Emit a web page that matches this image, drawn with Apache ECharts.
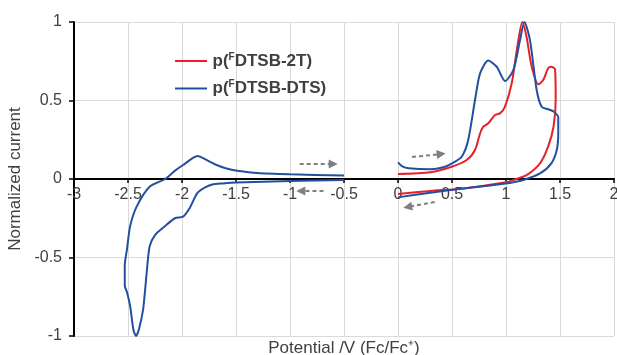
<!DOCTYPE html>
<html>
<head>
<meta charset="utf-8">
<script src="https://cdn.jsdelivr.net/npm/echarts@6/dist/echarts.min.js"></script>
<style>
  html, body { margin: 0; padding: 0; background: #fff; }
  #main { width: 617px; height: 355px; }
</style>
</head>
<body>
<div id="main"></div>
<script>
// p(FDTSB-2T), oxidation scan
const redX = [0, 0.3, 0.497, 0.636, 0.713, 0.76, 0.79, 0.836, 0.898, 0.944, 0.99, 1.053, 1.10, 1.151, 1.19, 1.238, 1.30, 1.345, 1.39, 1.42, 1.454, 1.46, 1.44, 1.39, 1.315, 1.19, 1.07, 1.0, 0.605, 0.3, 0]
const redY = [0.032, 0.043, 0.078, 0.121, 0.185, 0.29, 0.333, 0.355, 0.408, 0.418, 0.46, 0.61, 0.82, 1.0, 0.906, 0.715, 0.603, 0.63, 0.705, 0.715, 0.70, 0.503, 0.333, 0.206, 0.10, 0.025, -0.006, -0.021, -0.06, -0.076, -0.095]

// p(FDTSB-DTS), reduction scan
const blueRedX = [-0.5, -1.0, -1.5, -1.62, -1.72, -1.79, -1.86, -1.93, -1.99, -2.065, -2.157, -2.25, -2.30, -2.33, -2.36, -2.40, -2.426, -2.45, -2.48, -2.51, -2.53, -2.53, -2.51, -2.48, -2.42, -2.30, -2.155, -2.07, -1.99, -1.855, -1.77, -1.68, -1.58, -1.49, -1.3, -1.0, -0.5]
const blueRedY = [-0.006, -0.013, -0.022, -0.028, -0.035, -0.055, -0.091, -0.187, -0.24, -0.25, -0.30, -0.357, -0.43, -0.62, -0.83, -0.96, -1.0, -0.96, -0.81, -0.72, -0.68, -0.55, -0.45, -0.30, -0.176, -0.049, 0.0, 0.05, 0.089, 0.146, 0.12, 0.089, 0.065, 0.053, 0.038, 0.03, 0.022]

// p(FDTSB-DTS), oxidation scan
const blueOxX = [0, 0.04, 0.1, 0.3, 0.42, 0.5, 0.59, 0.65, 0.713, 0.76, 0.836, 0.914, 0.991, 1.068, 1.13, 1.17, 1.222, 1.284, 1.33, 1.39, 1.44, 1.484, 1.484, 1.47, 1.42, 1.315, 1.16, 1.0, 0.605, 0.3, 0]
const blueOxY = [0.106, 0.08, 0.068, 0.062, 0.075, 0.10, 0.142, 0.248, 0.503, 0.673, 0.754, 0.715, 0.624, 0.694, 0.885, 1.0, 0.885, 0.567, 0.46, 0.444, 0.43, 0.393, 0.29, 0.185, 0.10, 0.036, -0.006, -0.028, -0.06, -0.087, -0.117]

// scan direction arrows [x1, y1, x2, y2]
const arrows = [
  [-0.91, 0.096, -0.60, 0.096],
  [-0.69, -0.076, -0.90, -0.076],
  [0.13, 0.14, 0.40, 0.159],
  [0.34, -0.146, 0.09, -0.178]
]

const names = ['p(FDTSB-2T)', 'p(FDTSB-DTS)']
const font = "'Liberation Sans', Arial, sans-serif"

const zip = (xs, ys) => xs.map((x, i) => [x, ys[i]])

let chart = echarts.init(document.getElementById('main'))

const option = {
  animation: false,
  textStyle: { fontFamily: font },
  grid: { left: 74, right: 3, top: 22, bottom: 19, containLabel: false, outerBoundsMode: 'none' },
  legend: {
    orient: 'vertical',
    left: 170,
    top: 47,
    itemWidth: 33,
    itemHeight: 2,
    itemGap: 10,
    icon: 'path://M0,0 L32,0 L32,2 L0,2 Z',
    data: names,
    formatter: function (name) {
      return '{n|p(}{s|F}{n|' + name.slice(3) + '}'
    },
    textStyle: {
      rich: {
        n: { fontSize: 17, fontWeight: 'bold', color: '#404040', fontFamily: font },
        s: { fontSize: 10, fontWeight: 'bold', color: '#404040', fontFamily: font, verticalAlign: 'top', padding: [0, 0, 8, 0] }
      }
    }
  },
  xAxis: {
    type: 'value',
    min: -3,
    max: 2,
    interval: 0.5,
    position: 'bottom',
    offset: -157,
    name: 'Potential /V (Fc/Fc⁺)',
    nameLocation: 'middle',
    nameGap: 161,
    nameTextStyle: { fontSize: 17, color: '#404040', fontFamily: font },
    axisLine: { onZero: false, lineStyle: { color: '#000', width: 2 } },
    axisTick: { show: true, length: 4, lineStyle: { color: '#000', width: 1.5 } },
    axisLabel: { fontSize: 16, color: '#404040', margin: 8, fontFamily: font },
    splitLine: { lineStyle: { color: '#d9d9d9', width: 1 } }
  },
  yAxis: {
    type: 'value',
    min: -1,
    max: 1,
    interval: 0.5,
    name: 'Normalized current',
    nameLocation: 'middle',
    nameGap: 39,
    nameRotate: 90,
    nameTextStyle: { fontSize: 17, color: '#404040', fontFamily: font },
    axisLine: { show: true, onZero: false, lineStyle: { color: '#000', width: 2 } },
    axisTick: { show: true, length: 5, lineStyle: { color: '#000', width: 1.5 } },
    axisLabel: { fontSize: 16, color: '#404040', margin: 12, fontFamily: font },
    splitLine: { lineStyle: { color: '#d9d9d9', width: 1 } }
  },
  series: [
    {
      name: names[0],
      type: 'line',
      data: zip(redX, redY),
      smooth: 0.25,
      symbol: 'none',
      lineStyle: { color: '#e8202a', width: 2 },
      itemStyle: { color: '#e8202a' }
    },
    {
      name: names[1],
      type: 'line',
      data: zip(blueRedX, blueRedY),
      smooth: 0.25,
      symbol: 'none',
      lineStyle: { color: '#2150a0', width: 2 },
      itemStyle: { color: '#2150a0' }
    },
    {
      name: names[1],
      type: 'line',
      data: zip(blueOxX, blueOxY),
      smooth: 0.25,
      symbol: 'none',
      lineStyle: { color: '#2150a0', width: 2 },
      itemStyle: { color: '#2150a0' },
      markLine: {
        silent: true,
        symbol: ['none', 'triangle'],
        symbolSize: 9,
        label: { show: false },
        lineStyle: { color: '#7f7f7f', width: 2, type: [4, 3] },
        data: arrows.map(a => [{ coord: [a[0], a[1]] }, { coord: [a[2], a[3]] }])
      }
    }
  ]
}

chart.setOption(option)
</script>
</body>
</html>
